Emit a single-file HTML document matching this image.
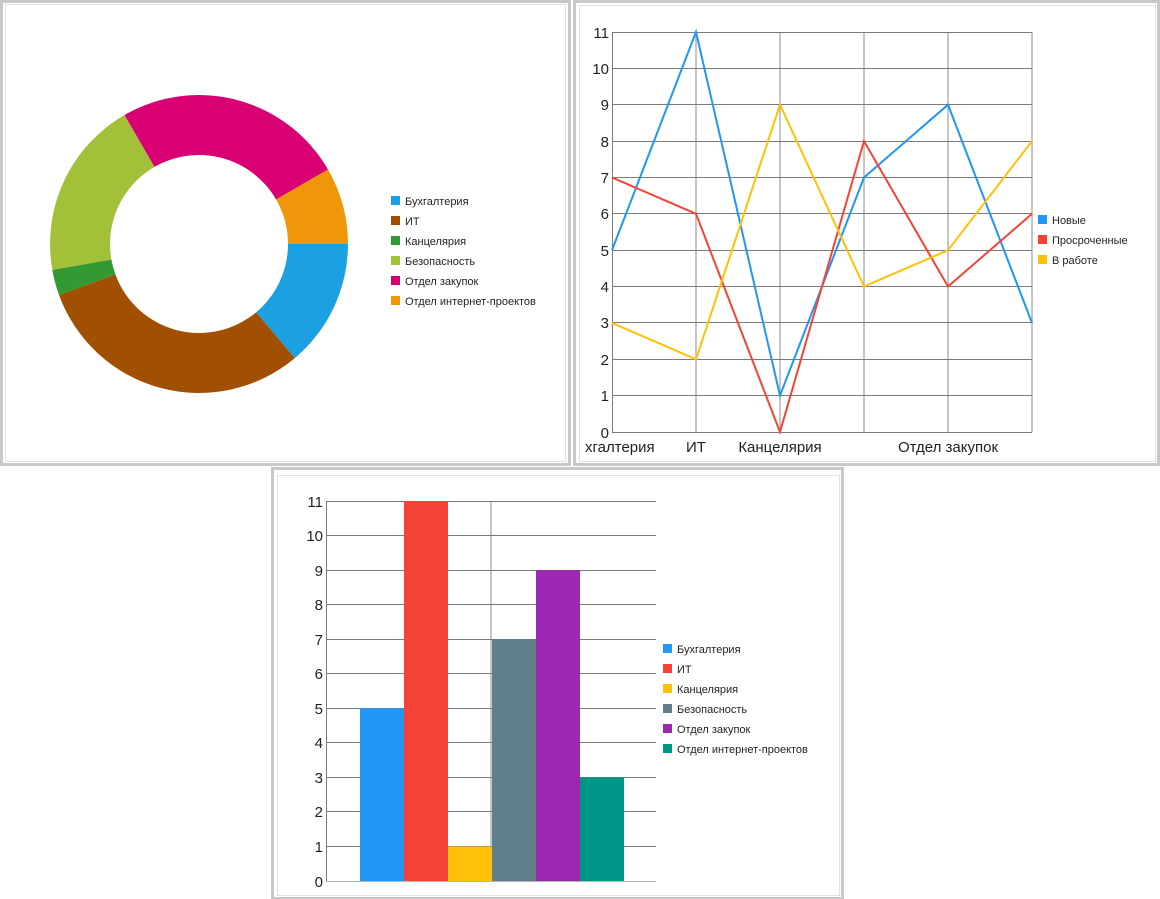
<!DOCTYPE html>
<html><head><meta charset="utf-8"><style>
html,body{margin:0;padding:0;background:#fff;}
svg{display:block;font-family:"Liberation Sans","DejaVu Sans",sans-serif;}
</style></head><body>
<svg width="1160" height="899" viewBox="0 0 1160 899" xmlns="http://www.w3.org/2000/svg">
<rect width="1160" height="899" fill="#fff"/>
<!-- panels -->
<rect x="1.5" y="1.5" width="568" height="463" fill="#fff" stroke="#c8c8c8" stroke-width="3"/>
<rect x="5.5" y="4.5" width="488" height="456" fill="none" stroke="#e4e4e4" stroke-width="1" transform="scale(1)" opacity="0"/>
<rect x="5.5" y="4.5" width="560" height="457" fill="none" stroke="#e2e2e2" stroke-width="1"/>
<rect x="574.5" y="1.5" width="584" height="463" fill="#fff" stroke="#c8c8c8" stroke-width="3"/>
<rect x="579.5" y="5.5" width="576" height="456" fill="none" stroke="#e2e2e2" stroke-width="1"/>
<rect x="272.5" y="468.5" width="570" height="430" fill="#fff" stroke="#c8c8c8" stroke-width="3"/>
<rect x="277.5" y="475.5" width="562" height="420" fill="none" stroke="#e2e2e2" stroke-width="1"/>

<!-- donut -->
<path d="M348,244 A149,149 0 0 1 294.8,358.1 L256.2,312.2 A89,89 0 0 0 288,244 Z" fill="#1ba1e2"/>
<path d="M294.8,358.1 A149,149 0 0 1 59.0,295.0 L115.4,274.4 A89,89 0 0 0 256.2,312.2 Z" fill="#a05000"/>
<path d="M59.0,295.0 A149,149 0 0 1 52.3,269.9 L111.4,259.5 A89,89 0 0 0 115.4,274.4 Z" fill="#339933"/>
<path d="M52.3,269.9 A149,149 0 0 1 124.5,115.0 L154.5,166.9 A89,89 0 0 0 111.4,259.5 Z" fill="#a2c139"/>
<path d="M124.5,115.0 A149,149 0 0 1 328.0,169.5 L276.1,199.5 A89,89 0 0 0 154.5,166.9 Z" fill="#d80073"/>
<path d="M328.0,169.5 A149,149 0 0 1 348,244 L288,244 A89,89 0 0 0 276.1,199.5 Z" fill="#f09609"/>
<g font-size="11" fill="#222">
<rect x="391" y="196" width="9" height="9" fill="#1ba1e2"/><text x="405" y="205">Бухгалтерия</text>
<rect x="391" y="216" width="9" height="9" fill="#a05000"/><text x="405" y="225">ИТ</text>
<rect x="391" y="236" width="9" height="9" fill="#339933"/><text x="405" y="245">Канцелярия</text>
<rect x="391" y="256" width="9" height="9" fill="#a2c139"/><text x="405" y="265">Безопасность</text>
<rect x="391" y="276" width="9" height="9" fill="#d80073"/><text x="405" y="285">Отдел закупок</text>
<rect x="391" y="296" width="9" height="9" fill="#f09609"/><text x="405" y="305">Отдел интернет-проектов</text>
</g>

<!-- line chart -->
<g stroke="#b4b4b4" stroke-width="1.5">
<line x1="696" y1="32" x2="696" y2="432"/><line x1="780" y1="32" x2="780" y2="432"/>
<line x1="864" y1="32" x2="864" y2="432"/><line x1="948" y1="32" x2="948" y2="432"/>
<line x1="1032" y1="32" x2="1032" y2="432"/>
</g>
<g stroke="#7a7a7a" stroke-width="1">
<line x1="612" y1="32.5" x2="1032" y2="32.5"/><line x1="612" y1="68.5" x2="1032" y2="68.5"/>
<line x1="612" y1="104.5" x2="1032" y2="104.5"/><line x1="612" y1="141.5" x2="1032" y2="141.5"/>
<line x1="612" y1="177.5" x2="1032" y2="177.5"/><line x1="612" y1="213.5" x2="1032" y2="213.5"/>
<line x1="612" y1="250.5" x2="1032" y2="250.5"/><line x1="612" y1="286.5" x2="1032" y2="286.5"/>
<line x1="612" y1="322.5" x2="1032" y2="322.5"/><line x1="612" y1="359.5" x2="1032" y2="359.5"/>
<line x1="612" y1="395.5" x2="1032" y2="395.5"/><line x1="612" y1="432.5" x2="1032" y2="432.5"/>
<line x1="612.5" y1="32" x2="612.5" y2="432"/>
</g>
<g fill="none" stroke-width="2">
<polyline stroke="#2196f3" points="612,250.2 696,32 780,395.6 864,177.5 948,104.7 1032,322.9"/>
<polyline stroke="#f44336" points="612,177.5 696,213.8 780,432 864,141.1 948,286.5 1032,213.8"/>
<polyline stroke="#ffc107" points="612,322.9 696,359.3 780,104.7 864,286.5 948,250.2 1032,141.1"/>
</g>
<g font-size="15" fill="#222" text-anchor="end">
<text x="609" y="38">11</text><text x="609" y="74">10</text><text x="609" y="110">9</text>
<text x="609" y="147">8</text><text x="609" y="183">7</text><text x="609" y="219">6</text>
<text x="609" y="256">5</text><text x="609" y="292">4</text><text x="609" y="328">3</text>
<text x="609" y="365">2</text><text x="609" y="401">1</text><text x="609" y="438">0</text>
</g>
<g font-size="15" fill="#222" text-anchor="middle">
<text x="585" y="452" text-anchor="start">хгалтерия</text>
<text x="696" y="452">ИТ</text>
<text x="780" y="452">Канцелярия</text>
<text x="948" y="452">Отдел закупок</text>
</g>
<g font-size="11" fill="#222">
<rect x="1038" y="215" width="9" height="9" fill="#2196f3"/><text x="1052" y="224">Новые</text>
<rect x="1038" y="235" width="9" height="9" fill="#f44336"/><text x="1052" y="244">Просроченные</text>
<rect x="1038" y="255" width="9" height="9" fill="#ffc107"/><text x="1052" y="264">В работе</text>
</g>

<!-- bar chart -->
<line x1="491" y1="501" x2="491" y2="881" stroke="#b4b4b4" stroke-width="1.5"/>
<g stroke="#7a7a7a" stroke-width="1">
<line x1="326" y1="501.5" x2="656" y2="501.5"/><line x1="326" y1="535.5" x2="656" y2="535.5"/>
<line x1="326" y1="570.5" x2="656" y2="570.5"/><line x1="326" y1="604.5" x2="656" y2="604.5"/>
<line x1="326" y1="639.5" x2="656" y2="639.5"/><line x1="326" y1="673.5" x2="656" y2="673.5"/>
<line x1="326" y1="708.5" x2="656" y2="708.5"/><line x1="326" y1="742.5" x2="656" y2="742.5"/>
<line x1="326" y1="777.5" x2="656" y2="777.5"/><line x1="326" y1="811.5" x2="656" y2="811.5"/>
<line x1="326" y1="846.5" x2="656" y2="846.5"/>
<line x1="326.5" y1="501" x2="326.5" y2="881"/>
</g>
<line x1="326" y1="881.5" x2="656" y2="881.5" stroke="#b4b4b4" stroke-width="1"/>
<rect x="360" y="708.3" width="44" height="172.7" fill="#2196f3"/>
<rect x="404" y="501" width="44" height="380" fill="#f44336"/>
<rect x="448" y="846.5" width="44" height="34.5" fill="#ffc107"/>
<rect x="492" y="639.2" width="44" height="241.8" fill="#607d8b"/>
<rect x="536" y="570.1" width="44" height="310.9" fill="#9c27b0"/>
<rect x="580" y="777.4" width="44" height="103.6" fill="#009688"/>
<g font-size="15" fill="#222" text-anchor="end">
<text x="323" y="507">11</text><text x="323" y="541">10</text><text x="323" y="576">9</text>
<text x="323" y="610">8</text><text x="323" y="645">7</text><text x="323" y="679">6</text>
<text x="323" y="714">5</text><text x="323" y="748">4</text><text x="323" y="783">3</text>
<text x="323" y="817">2</text><text x="323" y="852">1</text><text x="323" y="887">0</text>
</g>
<g font-size="11" fill="#222">
<rect x="663" y="644" width="9" height="9" fill="#2196f3"/><text x="677" y="653">Бухгалтерия</text>
<rect x="663" y="664" width="9" height="9" fill="#f44336"/><text x="677" y="673">ИТ</text>
<rect x="663" y="684" width="9" height="9" fill="#ffc107"/><text x="677" y="693">Канцелярия</text>
<rect x="663" y="704" width="9" height="9" fill="#607d8b"/><text x="677" y="713">Безопасность</text>
<rect x="663" y="724" width="9" height="9" fill="#9c27b0"/><text x="677" y="733">Отдел закупок</text>
<rect x="663" y="744" width="9" height="9" fill="#009688"/><text x="677" y="753">Отдел интернет-проектов</text>
</g>
</svg>
</body></html>
